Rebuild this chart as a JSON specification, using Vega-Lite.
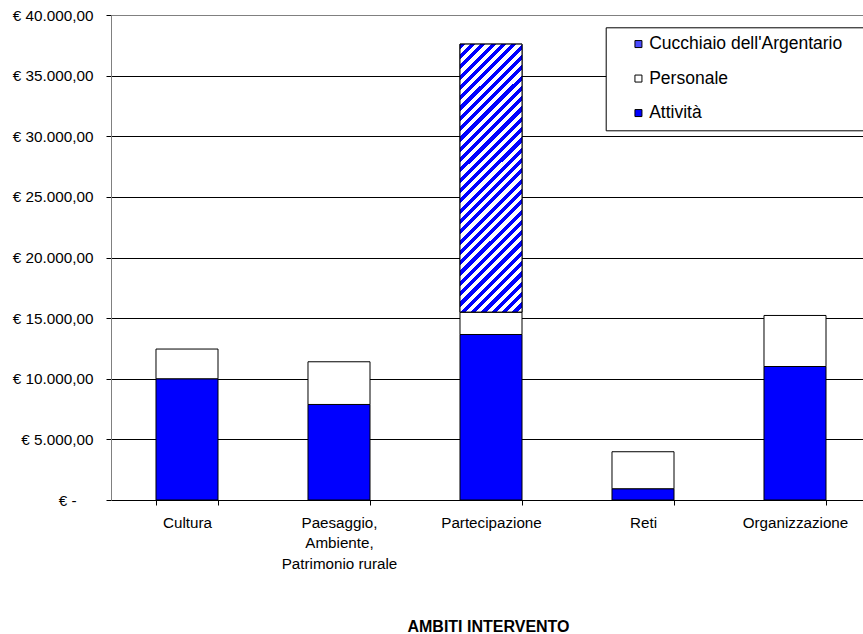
{
  "$schema": "https://vega.github.io/schema/vega-lite/v6.json",
  "width": 752,
  "height": 485,
  "autosize": "none",
  "padding": {"left": 111, "top": 15, "right": 0, "bottom": 134},
  "background": "white",
  "data": {
    "values": [
      {"ambito": "Cultura", "serie": "Attività", "valore": 10000, "ordine": 1},
      {"ambito": "Cultura", "serie": "Personale", "valore": 2450, "ordine": 2},
      {"ambito": "Paesaggio,\nAmbiente,\nPatrimonio rurale", "serie": "Attività", "valore": 7880, "ordine": 1},
      {"ambito": "Paesaggio,\nAmbiente,\nPatrimonio rurale", "serie": "Personale", "valore": 3520, "ordine": 2},
      {"ambito": "Partecipazione", "serie": "Attività", "valore": 13650, "ordine": 1},
      {"ambito": "Partecipazione", "serie": "Personale", "valore": 1850, "ordine": 2},
      {"ambito": "Partecipazione", "serie": "Cucchiaio dell'Argentario", "valore": 22100, "ordine": 3},
      {"ambito": "Reti", "serie": "Attività", "valore": 930, "ordine": 1},
      {"ambito": "Reti", "serie": "Personale", "valore": 3050, "ordine": 2},
      {"ambito": "Organizzazione", "serie": "Attività", "valore": 11010, "ordine": 1},
      {"ambito": "Organizzazione", "serie": "Personale", "valore": 4210, "ordine": 2}
    ]
  },
  "encoding": {
    "x": {
      "field": "ambito",
      "type": "nominal",
      "sort": ["Cultura", "Paesaggio,\nAmbiente,\nPatrimonio rurale", "Partecipazione", "Reti", "Organizzazione"],
      "scale": {"range": [0, 760], "paddingInner": 0.592, "paddingOuter": 0.296},
      "axis": {
        "title": "AMBITI INTERVENTO",
        "titleFont": "Liberation Sans",
        "titleFontSize": 16,
        "titleFontWeight": "bold",
        "titleColor": "black",
        "titleX": 377,
        "titleY": 131,
        "titleAlign": "center",
        "titleBaseline": "alphabetic",
        "labelExpr": "split(datum.label, '\\n')",
        "labelFont": "Liberation Sans",
        "labelFontSize": 15.2,
        "labelLineHeight": 20.5,
        "labelColor": "black",
        "labelPadding": 10,
        "labelAngle": 0,
        "labelBaseline": "top",
        "tickBand": "extent",
        "tickSize": 5,
        "tickColor": "black",
        "domainColor": "black",
        "grid": false
      }
    },
    "y": {
      "field": "valore",
      "type": "quantitative",
      "stack": "zero",
      "scale": {"domain": [0, 40000], "nice": false},
      "axis": {
        "title": null,
        "values": [0, 5000, 10000, 15000, 20000, 25000, 30000, 35000, 40000],
        "labelExpr": "datum.value === 0 ? '€ -\u00a0\u00a0\u00a0\u00a0\u200b' : '€ ' + format(datum.value / 1000, 'd') + '.000,00'",
        "labelFont": "Liberation Sans",
        "labelFontSize": 15.3,
        "labelColor": "black",
        "labelPadding": 13,
        "tickSize": 5,
        "tickColor": "black",
        "domainColor": "#808080",
        "grid": true,
        "gridColor": {"condition": {"test": "datum.value === 40000", "value": "#808080"}, "value": "black"},
        "gridOpacity": 1
      }
    },
    "order": {"field": "ordine", "type": "quantitative"}
  },
  "layer": [
    {
      "mark": {"type": "bar", "stroke": "black", "strokeWidth": 1},
      "encoding": {
        "color": {
          "field": "serie",
          "type": "nominal",
          "scale": {
            "domain": ["Cucchiaio dell'Argentario", "Personale", "Attività"],
            "range": ["#4a4aff", "#ffffff", "#0000ff"]
          },
          "legend": {
            "title": null,
            "orient": "none",
            "legendX": 494.7,
            "legendY": 12.3,
            "strokeColor": "black",
            "fillColor": "white",
            "padding": 8,
            "symbolType": "square",
            "symbolSize": 49,
            "symbolStrokeColor": "black",
            "symbolStrokeWidth": 1,
            "symbolOffset": 16,
            "labelOffset": 2,
            "labelFont": "Liberation Sans",
            "labelFontSize": 17.5,
            "labelColor": "black",
            "labelLimit": 400,
            "rowPadding": 15.5,
            "labelExpr": "datum.label + '\u00a0\u00a0\u00a0\u00a0\u00a0\u00a0\u200b'"
          }
        }
      }
    },
    {
      "mark": {
        "type": "bar",
        "stroke": "black",
        "strokeWidth": 1,
        "fill": {"gradient": "linear", "x1": 0, "y1": 0, "x2": 0.27, "y2": 1.169, "stops": [
          {"offset": 0, "color": "#0000ff"}, {"offset": 0.015625, "color": "#0000ff"}, {"offset": 0.015625, "color": "#ffffff"}, {"offset": 0.03125, "color": "#ffffff"},
          {"offset": 0.03125, "color": "#0000ff"}, {"offset": 0.046875, "color": "#0000ff"}, {"offset": 0.046875, "color": "#ffffff"}, {"offset": 0.0625, "color": "#ffffff"},
          {"offset": 0.0625, "color": "#0000ff"}, {"offset": 0.078125, "color": "#0000ff"}, {"offset": 0.078125, "color": "#ffffff"}, {"offset": 0.09375, "color": "#ffffff"},
          {"offset": 0.09375, "color": "#0000ff"}, {"offset": 0.109375, "color": "#0000ff"}, {"offset": 0.109375, "color": "#ffffff"}, {"offset": 0.125, "color": "#ffffff"},
          {"offset": 0.125, "color": "#0000ff"}, {"offset": 0.140625, "color": "#0000ff"}, {"offset": 0.140625, "color": "#ffffff"}, {"offset": 0.15625, "color": "#ffffff"},
          {"offset": 0.15625, "color": "#0000ff"}, {"offset": 0.171875, "color": "#0000ff"}, {"offset": 0.171875, "color": "#ffffff"}, {"offset": 0.1875, "color": "#ffffff"},
          {"offset": 0.1875, "color": "#0000ff"}, {"offset": 0.203125, "color": "#0000ff"}, {"offset": 0.203125, "color": "#ffffff"}, {"offset": 0.21875, "color": "#ffffff"},
          {"offset": 0.21875, "color": "#0000ff"}, {"offset": 0.234375, "color": "#0000ff"}, {"offset": 0.234375, "color": "#ffffff"}, {"offset": 0.25, "color": "#ffffff"},
          {"offset": 0.25, "color": "#0000ff"}, {"offset": 0.265625, "color": "#0000ff"}, {"offset": 0.265625, "color": "#ffffff"}, {"offset": 0.28125, "color": "#ffffff"},
          {"offset": 0.28125, "color": "#0000ff"}, {"offset": 0.296875, "color": "#0000ff"}, {"offset": 0.296875, "color": "#ffffff"}, {"offset": 0.3125, "color": "#ffffff"},
          {"offset": 0.3125, "color": "#0000ff"}, {"offset": 0.328125, "color": "#0000ff"}, {"offset": 0.328125, "color": "#ffffff"}, {"offset": 0.34375, "color": "#ffffff"},
          {"offset": 0.34375, "color": "#0000ff"}, {"offset": 0.359375, "color": "#0000ff"}, {"offset": 0.359375, "color": "#ffffff"}, {"offset": 0.375, "color": "#ffffff"},
          {"offset": 0.375, "color": "#0000ff"}, {"offset": 0.390625, "color": "#0000ff"}, {"offset": 0.390625, "color": "#ffffff"}, {"offset": 0.40625, "color": "#ffffff"},
          {"offset": 0.40625, "color": "#0000ff"}, {"offset": 0.421875, "color": "#0000ff"}, {"offset": 0.421875, "color": "#ffffff"}, {"offset": 0.4375, "color": "#ffffff"},
          {"offset": 0.4375, "color": "#0000ff"}, {"offset": 0.453125, "color": "#0000ff"}, {"offset": 0.453125, "color": "#ffffff"}, {"offset": 0.46875, "color": "#ffffff"},
          {"offset": 0.46875, "color": "#0000ff"}, {"offset": 0.484375, "color": "#0000ff"}, {"offset": 0.484375, "color": "#ffffff"}, {"offset": 0.5, "color": "#ffffff"},
          {"offset": 0.5, "color": "#0000ff"}, {"offset": 0.515625, "color": "#0000ff"}, {"offset": 0.515625, "color": "#ffffff"}, {"offset": 0.53125, "color": "#ffffff"},
          {"offset": 0.53125, "color": "#0000ff"}, {"offset": 0.546875, "color": "#0000ff"}, {"offset": 0.546875, "color": "#ffffff"}, {"offset": 0.5625, "color": "#ffffff"},
          {"offset": 0.5625, "color": "#0000ff"}, {"offset": 0.578125, "color": "#0000ff"}, {"offset": 0.578125, "color": "#ffffff"}, {"offset": 0.59375, "color": "#ffffff"},
          {"offset": 0.59375, "color": "#0000ff"}, {"offset": 0.609375, "color": "#0000ff"}, {"offset": 0.609375, "color": "#ffffff"}, {"offset": 0.625, "color": "#ffffff"},
          {"offset": 0.625, "color": "#0000ff"}, {"offset": 0.640625, "color": "#0000ff"}, {"offset": 0.640625, "color": "#ffffff"}, {"offset": 0.65625, "color": "#ffffff"},
          {"offset": 0.65625, "color": "#0000ff"}, {"offset": 0.671875, "color": "#0000ff"}, {"offset": 0.671875, "color": "#ffffff"}, {"offset": 0.6875, "color": "#ffffff"},
          {"offset": 0.6875, "color": "#0000ff"}, {"offset": 0.703125, "color": "#0000ff"}, {"offset": 0.703125, "color": "#ffffff"}, {"offset": 0.71875, "color": "#ffffff"},
          {"offset": 0.71875, "color": "#0000ff"}, {"offset": 0.734375, "color": "#0000ff"}, {"offset": 0.734375, "color": "#ffffff"}, {"offset": 0.75, "color": "#ffffff"},
          {"offset": 0.75, "color": "#0000ff"}, {"offset": 0.765625, "color": "#0000ff"}, {"offset": 0.765625, "color": "#ffffff"}, {"offset": 0.78125, "color": "#ffffff"},
          {"offset": 0.78125, "color": "#0000ff"}, {"offset": 0.796875, "color": "#0000ff"}, {"offset": 0.796875, "color": "#ffffff"}, {"offset": 0.8125, "color": "#ffffff"},
          {"offset": 0.8125, "color": "#0000ff"}, {"offset": 0.828125, "color": "#0000ff"}, {"offset": 0.828125, "color": "#ffffff"}, {"offset": 0.84375, "color": "#ffffff"},
          {"offset": 0.84375, "color": "#0000ff"}, {"offset": 0.859375, "color": "#0000ff"}, {"offset": 0.859375, "color": "#ffffff"}, {"offset": 0.875, "color": "#ffffff"},
          {"offset": 0.875, "color": "#0000ff"}, {"offset": 0.890625, "color": "#0000ff"}, {"offset": 0.890625, "color": "#ffffff"}, {"offset": 0.90625, "color": "#ffffff"},
          {"offset": 0.90625, "color": "#0000ff"}, {"offset": 0.921875, "color": "#0000ff"}, {"offset": 0.921875, "color": "#ffffff"}, {"offset": 0.9375, "color": "#ffffff"},
          {"offset": 0.9375, "color": "#0000ff"}, {"offset": 0.953125, "color": "#0000ff"}, {"offset": 0.953125, "color": "#ffffff"}, {"offset": 0.96875, "color": "#ffffff"},
          {"offset": 0.96875, "color": "#0000ff"}, {"offset": 0.984375, "color": "#0000ff"}, {"offset": 0.984375, "color": "#ffffff"}, {"offset": 1, "color": "#ffffff"}
        ]}
      },
      "encoding": {
        "opacity": {"condition": {"test": "datum.ordine === 3", "value": 1}, "value": 0}
      }
    }
  ],
  "config": {"view": {"stroke": null}, "font": "Liberation Sans"}
}
